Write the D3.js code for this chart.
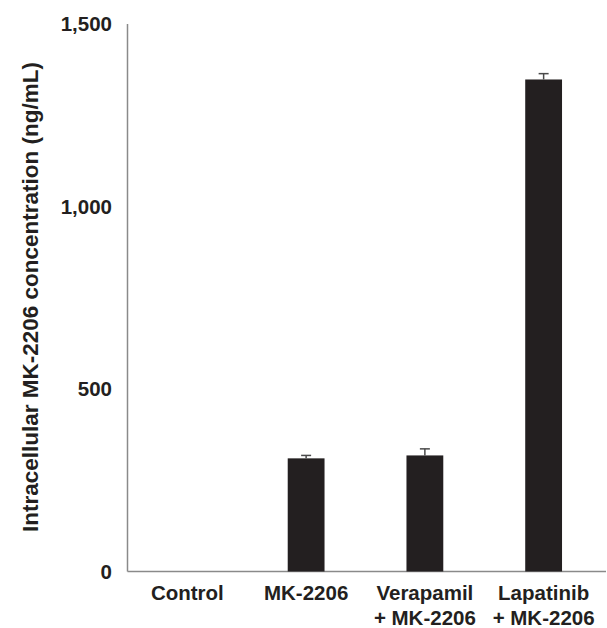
<!DOCTYPE html>
<html>
<head>
<meta charset="utf-8">
<script src="https://cdn.jsdelivr.net/npm/d3@7"></script>
<style>
  body { margin: 0; background: #fff; }
  text { font-family: "Liberation Sans", Arial, sans-serif; font-weight: bold; fill: #231f20; }
</style>
</head>
<body>
<svg id="chart"></svg>
<script>
// Datos
const categories = ["Control", "MK-2206", "Verapamil\n+ MK-2206", "Lapatinib\n+ MK-2206"];
const values = [0, 310, 318, 1348];
const errors = [0, 8, 18, 16];
const yTicks = [0, 500, 1000, 1500];

const width = 607;
const height = 628;

const svg = d3.select("#chart")
    .attr("width", width)
    .attr("height", height);

// Escalas
const xScale = d3.scaleBand()
    .domain(categories)
    .range([128, 603])
    .paddingInner(0.69)
    .paddingOuter(0.345);

const yScale = d3.scaleLinear()
    .domain([0, 1500])
    .range([571.5, 24]);

// Ejes
svg.append("line")
    .attr("x1", 127.5).attr("x2", 127.5)
    .attr("y1", yScale(1500)).attr("y2", yScale(0))
    .attr("stroke", "#8a8a8a").attr("stroke-width", 1.5);

svg.append("line")
    .attr("x1", 127.5).attr("x2", 606)
    .attr("y1", yScale(0)).attr("y2", yScale(0))
    .attr("stroke", "#8a8a8a").attr("stroke-width", 1.5);

svg.selectAll(".ytick")
    .data(yTicks)
    .enter()
    .append("text")
    .attr("class", "ytick")
    .attr("x", 112)
    .attr("y", d => yScale(d))
    .attr("dy", "0.35em")
    .attr("text-anchor", "end")
    .style("font-size", "20.5px")
    .text(d => d3.format(",")(d));

// Barras
svg.selectAll(".bar")
    .data(values)
    .enter()
    .append("rect")
    .attr("class", "bar")
    .attr("x", (d, i) => xScale(categories[i]))
    .attr("y", d => yScale(d))
    .attr("width", xScale.bandwidth())
    .attr("height", d => yScale(0) - yScale(d))
    .attr("fill", "#231f20");

// Barras de error
const eb = svg.selectAll(".err")
    .data(values.map((v, i) => ({ v, e: errors[i], c: categories[i] })).filter(d => d.v > 0))
    .enter()
    .append("g")
    .attr("class", "err");

eb.append("line")
    .attr("x1", d => xScale(d.c) + xScale.bandwidth() / 2)
    .attr("x2", d => xScale(d.c) + xScale.bandwidth() / 2)
    .attr("y1", d => yScale(d.v))
    .attr("y2", d => yScale(d.v + d.e))
    .attr("stroke", "#4a4a4a").attr("stroke-width", 1.5);

eb.append("line")
    .attr("x1", d => xScale(d.c) + xScale.bandwidth() / 2 - 5)
    .attr("x2", d => xScale(d.c) + xScale.bandwidth() / 2 + 5)
    .attr("y1", d => yScale(d.v + d.e))
    .attr("y2", d => yScale(d.v + d.e))
    .attr("stroke", "#4a4a4a").attr("stroke-width", 1.5);

// Etiquetas del eje x
const xl = svg.selectAll(".xlabel")
    .data(categories)
    .enter()
    .append("text")
    .attr("class", "xlabel")
    .attr("text-anchor", "middle")
    .style("font-size", "20.5px");

xl.selectAll("tspan")
    .data(d => d.split("\n").map(s => ({ s, c: d })))
    .enter()
    .append("tspan")
    .attr("x", d => xScale(d.c) + xScale.bandwidth() / 2)
    .attr("y", (d, i) => 600 + i * 25)
    .text(d => d.s);

// Título eje y
svg.append("text")
    .attr("transform", "translate(38, 297) rotate(-90)")
    .attr("text-anchor", "middle")
    .style("font-size", "22.5px")
    .text("Intracellular MK-2206 concentration (ng/mL)");
</script>
</body>
</html>
